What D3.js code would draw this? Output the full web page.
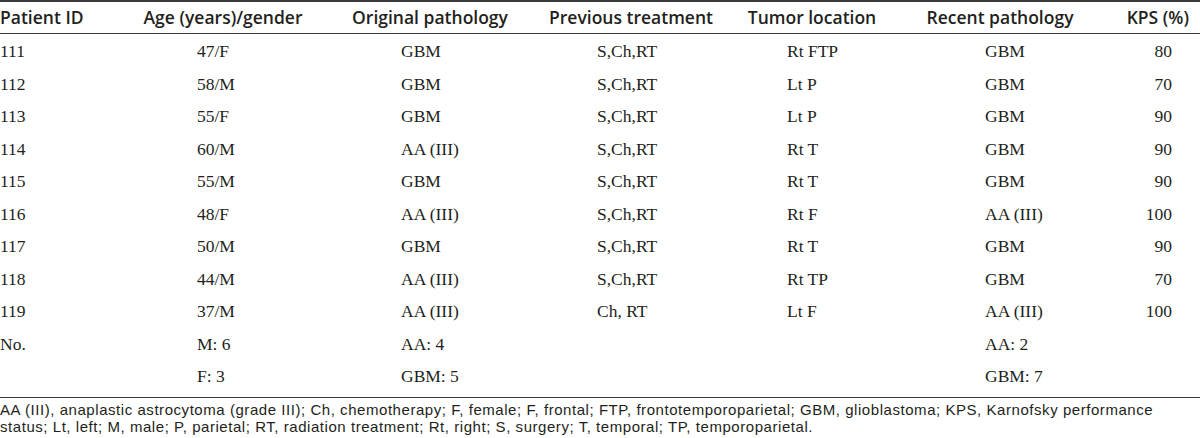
<!DOCTYPE html>
<html>
<head>
<meta charset="utf-8">
<script src="https://cdn.jsdelivr.net/npm/d3@7"></script>
<style>
  body { margin: 0; background: #fff; }
  .head { font-family: "Open Sans", sans-serif; font-weight: 600; font-size: 17.5px; fill: #231f20; }
  .cell { font-family: "Liberation Serif", serif; font-size: 17.5px; fill: #231f20; }
  .note { font-family: "Liberation Sans", sans-serif; font-size: 15px; letter-spacing: 0.55px; fill: #231f20; }
</style>
</head>
<body>
<div id="table"></div>
<script>
// table size
var svgWidth = 1200
var svgHeight = 438

// column headers
var headers = ["Patient ID", "Age (years)/gender", "Original pathology",
    "Previous treatment", "Tumor location", "Recent pathology", "KPS (%)"];

// one array per column (last two rows are the summary rows)
var patientIds = ["111", "112", "113", "114", "115", "116", "117", "118", "119", "No.", ""];
var ageGender = ["47/F", "58/M", "55/F", "60/M", "55/M", "48/F", "50/M", "44/M", "37/M", "M: 6", "F: 3"];
var originalPathology = ["GBM", "GBM", "GBM", "AA (III)", "GBM", "AA (III)", "GBM", "AA (III)", "AA (III)", "AA: 4", "GBM: 5"];
var previousTreatment = ["S,Ch,RT", "S,Ch,RT", "S,Ch,RT", "S,Ch,RT", "S,Ch,RT", "S,Ch,RT", "S,Ch,RT", "S,Ch,RT", "Ch, RT", "", ""];
var tumorLocation = ["Rt FTP", "Lt P", "Lt P", "Rt T", "Rt T", "Rt F", "Rt T", "Rt TP", "Lt F", "", ""];
var recentPathology = ["GBM", "GBM", "GBM", "GBM", "GBM", "AA (III)", "GBM", "GBM", "AA (III)", "AA: 2", "GBM: 7"];
var kps = ["80", "70", "90", "90", "90", "100", "90", "70", "100", "", ""];

var footnote = [
    "AA (III), anaplastic astrocytoma (grade III); Ch, chemotherapy; F, female; F, frontal; FTP, frontotemporoparietal; GBM, glioblastoma; KPS, Karnofsky performance",
    "status; Lt, left; M, male; P, parietal; RT, radiation treatment; Rt, right; S, surgery; T, temporal; TP, temporoparietal."
];

var columns = [patientIds, ageGender, originalPathology, previousTreatment,
    tumorLocation, recentPathology, kps];

// layout: header anchor points and cell start points for each column
var headX = d3.scaleOrdinal().domain(d3.range(7)).range([0, 223, 430, 631, 812, 1000, 1189]);
var headAnchor = ["start", "middle", "middle", "middle", "middle", "middle", "end"];
var cellX = d3.scaleOrdinal().domain(d3.range(7)).range([0, 197, 401, 597, 787, 985, 1172]);

var rowY = d3.scalePoint()
    .domain(d3.range(patientIds.length))
    .range([51, 376]);

var svg = d3.select("#table")
    .append("svg")
    .attr("width", svgWidth)
    .attr("height", svgHeight);

// rules
var rules = [{ y: 1, w: 2 }, { y: 33.5, w: 1.2 }, { y: 397.5, w: 1.2 }];
svg.selectAll("line.rule")
    .data(rules)
    .enter()
    .append("line")
    .attr("class", "rule")
    .attr("x1", 0)
    .attr("x2", svgWidth)
    .attr("y1", d => d.y)
    .attr("y2", d => d.y)
    .attr("stroke", "#3a3a3a")
    .attr("stroke-width", d => d.w);

// header row
svg.selectAll("text.head")
    .data(headers)
    .enter()
    .append("text")
    .attr("class", "head")
    .attr("x", (d, i) => headX(i))
    .attr("y", 18)
    .attr("dy", "0.36em")
    .attr("text-anchor", (d, i) => headAnchor[i])
    .text(d => d);

// body cells
columns.forEach(function (col, c) {
    svg.append("g")
        .selectAll("text")
        .data(col)
        .enter()
        .append("text")
        .attr("class", "cell")
        .attr("x", cellX(c))
        .attr("y", (d, i) => rowY(i))
        .attr("dy", "0.35em")
        .attr("text-anchor", c === 6 ? "end" : "start")
        .text(d => d);
});

// footnote lines
svg.selectAll("text.note")
    .data(footnote)
    .enter()
    .append("text")
    .attr("class", "note")
    .attr("x", 0)
    .attr("y", (d, i) => 410 + i * 17)
    .attr("dy", "0.35em")
    .text(d => d);
</script>
</body>
</html>
